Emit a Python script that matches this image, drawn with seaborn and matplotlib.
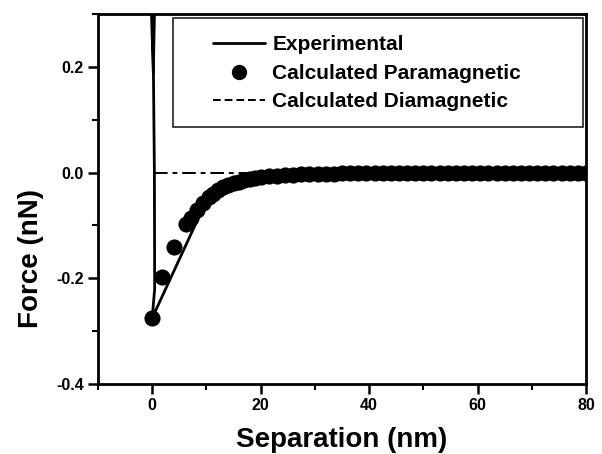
import matplotlib
matplotlib.use("Agg")
import matplotlib.pyplot as plt
import seaborn as sns
import pandas as pd
from matplotlib.lines import Line2D
from matplotlib.patches import Rectangle
from matplotlib.ticker import MultipleLocator

# ---- data ----
exp_x = [0.45, 0.2, -0.2, 0.1, 0.4, 0.45, 0.0, 3.65, 8.2, 10.0, 12.0, 15.0, 20.0, 30.0, 80.0]
exp_y = [0.32, 0.19, 0.32, 0.32, 0.0, -0.22, -0.275, -0.194, -0.093, -0.055, -0.035, -0.02, -0.008, -0.002, 0.0]

para_x = [0.0, 1.8, 4.0, 6.2, 7.1, 8.2, 9.3, 10.4, 11.3, 12.2, 13.1, 14.0, 15.0, 16.0,
          17.0, 18.0, 19.0, 20.0, 21.5, 23.0, 24.5, 26.0, 27.5, 29.0, 30.5, 32.0, 33.5,
          35.0, 36.5, 38.0, 39.5, 41.0, 42.5, 44.0, 45.5, 47.0, 48.5, 50.0, 51.5, 53.0,
          54.5, 56.0, 57.5, 59.0, 60.5, 62.0, 63.5, 65.0, 66.5, 68.0, 69.5, 71.0, 72.5,
          74.0, 75.5, 77.0, 78.5, 80.0]
para_y = [-0.275, -0.198, -0.14, -0.098, -0.085, -0.07, -0.058, -0.047, -0.04, -0.033,
          -0.028, -0.024, -0.02, -0.017, -0.014, -0.012, -0.010, -0.009, -0.007, -0.006,
          -0.005, -0.004, -0.003, -0.003, -0.002, -0.002, -0.002, -0.001, -0.001, -0.001,
          -0.001, -0.001, -0.001, 0.0, 0.0, 0.0, 0.0, 0.0, 0.0, 0.0, 0.0, 0.0, 0.0, 0.0,
          0.0, 0.0, 0.0, 0.0, 0.0, 0.0, 0.0, 0.0, 0.0, 0.0, 0.0, 0.0, 0.0, 0.0]

dia_x = [0.4, 80.0]
dia_y = [0.0, 0.0]

labels = ["Experimental", "Calculated Paramagnetic", "Calculated Diamagnetic"]
x_label = "Separation (nm)"
y_label = "Force (nN)"

# ---- style ----
sns.set_theme(style="ticks")
plt.rcParams["font.family"] = ["Liberation Sans", "DejaVu Sans"]
plt.rcParams["font.weight"] = "bold"
plt.rcParams["axes.unicode_minus"] = False
for k in ["text.color", "axes.labelcolor", "xtick.color", "ytick.color", "axes.edgecolor"]:
    plt.rcParams[k] = "black"

fig = plt.figure(figsize=(6.02, 4.54), dpi=100)
ax = fig.add_axes([98 / 602, 1 - 384 / 454, 488 / 602, 370 / 454])

df_exp = pd.DataFrame({"x": exp_x, "y": exp_y})
df_para = pd.DataFrame({"x": para_x, "y": para_y})
df_dia = pd.DataFrame({"x": dia_x, "y": dia_y})

dash = (0, (7, 2.5, 2.5, 2.5))
sns.lineplot(data=df_dia, x="x", y="y", ax=ax, color="black", lw=1.4,
             linestyle=dash, sort=False, estimator=None, zorder=1)
sns.lineplot(data=df_exp, x="x", y="y", ax=ax, color="black", lw=2.0,
             sort=False, estimator=None, zorder=2)
sns.scatterplot(data=df_para, x="x", y="y", ax=ax, color="black", s=135,
                edgecolor="black", linewidth=0, zorder=3)

ax.set_xlim(-10, 80)
ax.set_ylim(-0.4, 0.3)
ax.xaxis.set_major_locator(MultipleLocator(20))
ax.xaxis.set_minor_locator(MultipleLocator(10))
ax.yaxis.set_major_locator(MultipleLocator(0.2))
ax.yaxis.set_minor_locator(MultipleLocator(0.1))
ax.set_yticks([-0.4, -0.2, 0.0, 0.2])
ax.set_yticklabels(["-0.4", "-0.2", "0.0", "0.2"])

for s in ax.spines.values():
    s.set_linewidth(2.0)
    s.set_color("black")
ax.tick_params(which="major", direction="out", length=7, width=1.8,
               labelsize=11.5, pad=3, colors="black")
ax.tick_params(which="minor", direction="out", length=4, width=1.5, colors="black")
ax.tick_params(top=False, right=False, which="both")
for t in ax.get_xticklabels() + ax.get_yticklabels():
    t.set_fontweight("bold")

ax.set_xlabel(x_label, fontsize=20, fontweight="bold", labelpad=10)
ax.set_ylabel(y_label, fontsize=20, fontweight="bold")
ax.yaxis.set_label_coords(-0.11, 0.34)

# legend frame
ax.add_patch(Rectangle((0.1537, 0.6946), 0.9939 - 0.1537, 0.989 - 0.6946,
                       transform=ax.transAxes, fill=False, edgecolor="#222222",
                       lw=1.2, zorder=5))
handles = [
    Line2D([], [], color="black", lw=2.0),
    Line2D([], [], color="black", marker="o", ls="none", markersize=10),
    Line2D([], [], color="black", lw=1.4, linestyle=(0, (4, 2))),
]
leg = ax.legend(handles, labels, loc="upper left", bbox_to_anchor=(0.2357, 0.942),
                frameon=False, handlelength=2.5, handletextpad=0.35,
                borderpad=0, borderaxespad=0, labelspacing=0.45,
                prop={"weight": "bold", "size": 15})
for t in leg.get_texts():
    t.set_color("black")
leg.set_zorder(6)

fig.savefig("out.png", dpi=100)
